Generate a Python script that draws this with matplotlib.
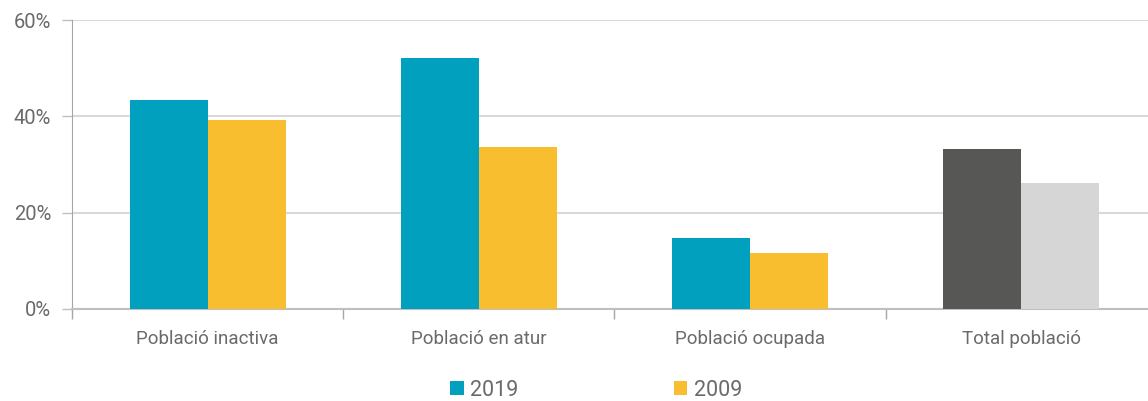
import numpy as np
import matplotlib
matplotlib.use("Agg")
import matplotlib.pyplot as plt

categories = ["Població inactiva", "Població en atur", "Població ocupada", "Total població"]
vals_2019 = [43.4, 52.2, 14.7, 33.2]
vals_2009 = [39.3, 33.6, 11.6, 26.2]
colors_2019 = ["#00A0BE", "#00A0BE", "#00A0BE", "#575756"]
colors_2009 = ["#F9BE2F", "#F9BE2F", "#F9BE2F", "#D6D6D6"]
yticks = [0, 20, 40, 60]

plt.rcParams["font.family"] = ["Roboto", "DejaVu Sans"]
txt = "#6A6A6A"

fig = plt.figure(figsize=(11.48, 4.01), dpi=100)
W, H = 1148, 401
ax = fig.add_axes([72 / W, 1 - 309 / H, 1085 / W, (309 - 20) / H])

x = np.arange(len(categories))
w = 0.288
b1 = ax.bar(x - w / 2, vals_2019, w, color=colors_2019, label="2019", zorder=3)
b2 = ax.bar(x + w / 2, vals_2009, w, color=colors_2009, label="2009", zorder=3)

ax.set_xlim(-0.5, len(categories) - 0.5)
ax.set_ylim(0, 60)
ax.set_yticks(yticks)
ax.set_yticklabels([f"{v}%" for v in yticks], fontsize=14.5, color=txt)
ax.yaxis.grid(True, color="#D9D9D9", linewidth=1.5, zorder=0)
ax.tick_params(axis="y", length=7, color="#BFBFBF", width=1, pad=8)

ax.set_xticks(x)
ax.set_xticklabels(categories, fontsize=13.5, color=txt)
ax.set_xticks(np.arange(len(categories) + 1) - 0.5, minor=True)
ax.tick_params(axis="x", which="major", length=0, pad=15)
ax.tick_params(axis="x", which="minor", length=7, color="#A6A6A6", width=1)

for s in ["top", "right"]:
    ax.spines[s].set_visible(False)
ax.spines["left"].set_color("#A6A6A6")
ax.spines["bottom"].set_color("#BFBFBF")
ax.spines["bottom"].set_linewidth(1.5)

leg = fig.legend(handles=[b1, b2], loc="center", bbox_to_anchor=(596 / W, 1 - 390 / H),
                 ncol=2, frameon=False, fontsize=15.5, handlelength=0.65, handleheight=0.65,
                 handletextpad=0.3, columnspacing=7.2, labelcolor=txt)

fig.savefig("out.png", dpi=100)
